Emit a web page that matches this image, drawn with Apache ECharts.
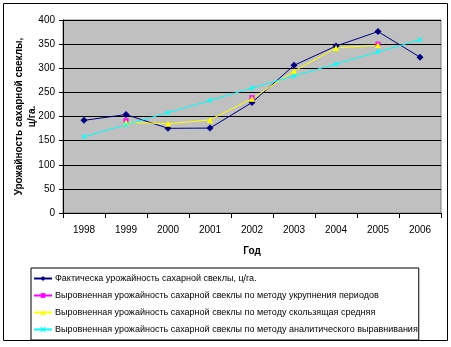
<!DOCTYPE html>
<html>
<head>
<meta charset="utf-8">
<script src="https://cdn.jsdelivr.net/npm/echarts@6/dist/echarts.min.js"></script>
<style>
  html, body { margin: 0; padding: 0; background: #fff; }
  #chart { width: 451px; height: 347px; }
</style>
</head>
<body>
<div id="chart"></div>
<script>
// Years on the category axis
var years = ['1998', '1999', '2000', '2001', '2002', '2003', '2004', '2005', '2006'];

// Actual sugar-beet yield, c/ha
var actualYield = [192, 204, 175.5, 176, 229, 306, 346, 376, 323];
// Smoothed by the period-enlargement method (3-year groups)
var enlargedPeriods = [null, 191, null, null, 239, null, null, 350, null];
// Smoothed by the moving-average method
var movingAverage = [null, 188, 185, 193, 237, 294, 342, 348, null];
// Smoothed by analytic (linear trend) levelling
var analyticTrend = [158, 183, 208, 233, 259, 284, 309, 334, 359];

var seriesNames = [
  'Фактическа урожайность сахарной свеклы, ц/га.',
  'Выровненная урожайность сахарной свеклы по методу укрупнения периодов',
  'Выровненная урожайность сахарной свеклы по методу скользящая средняя',
  'Выровненная урожайность сахарной свеклы по методу аналитического выравнивания'
];

var FONT = '"Liberation Sans", Arial, sans-serif';
var xMark = 'path://M0,0 L1.5,0 L5,3.5 L8.5,0 L10,0 L10,1.5 L6.5,5 L10,8.5 L10,10 L8.5,10 L5,6.5 L1.5,10 L0,10 L0,8.5 L3.5,5 L0,1.5 Z';

var chart = echarts.init(document.getElementById('chart'), null, { renderer: 'canvas' });

function lineSeries(name, data, color, symbol, size) {
  return {
    name: name,
    type: 'line',
    data: data,
    connectNulls: false,
    symbol: symbol,
    symbolSize: size,
    showAllSymbol: true,
    lineStyle: { color: color, width: 1 },
    itemStyle: { color: color, borderWidth: 0 },
    emphasis: { disabled: true },
    animation: false
  };
}

chart.setOption({
  animation: false,
  textStyle: { fontFamily: FONT, color: '#000' },
  graphic: [{
    type: 'rect',
    shape: { x: 3.5, y: 3.5, width: 444, height: 337 },
    style: { fill: 'none', stroke: '#000', lineWidth: 1 },
    silent: true
  }],
  grid: {
    left: 63, top: 20, right: 10, bottom: 134,
    outerBoundsMode: 'none',
    containLabel: false,
    show: true,
    backgroundColor: '#c0c0c0',
    borderColor: '#808080',
    borderWidth: 1
  },
  legend: {
    orient: 'vertical',
    left: 31, top: 268,
    padding: [5, 1, 5, 2],
    itemGap: 6,
    itemWidth: 18,
    itemHeight: 6,
    borderColor: '#000',
    borderWidth: 1,
    textStyle: { fontSize: 9, lineHeight: 11, fontFamily: FONT, color: '#000', padding: [0, 0, 0, -2] },
    data: seriesNames
  },
  xAxis: {
    type: 'category',
    data: years,
    boundaryGap: true,
    name: 'Год',
    nameLocation: 'middle',
    nameGap: 33,
    nameTextStyle: { fontSize: 10, fontWeight: 'bold', fontFamily: FONT, color: '#000' },
    axisLine: { show: true, lineStyle: { color: '#000', width: 1 } },
    axisTick: { show: true, length: 5, lineStyle: { color: '#000' } },
    axisLabel: { fontSize: 10, fontFamily: FONT, color: '#000', margin: 12 },
    splitLine: { show: false }
  },
  yAxis: {
    type: 'value',
    min: 0, max: 400, interval: 50,
    name: 'Урожайность сахарной свеклы,\nц/га.',
    nameLocation: 'middle',
    nameRotate: 90,
    nameGap: 24,
    nameMoveOverlap: false,
    nameTextStyle: { fontSize: 10, fontWeight: 'bold', fontFamily: FONT, color: '#000', lineHeight: 13 },
    axisLine: { show: true, lineStyle: { color: '#000', width: 1 } },
    axisTick: { show: true, length: 4, lineStyle: { color: '#000' } },
    axisLabel: { fontSize: 10, fontFamily: FONT, color: '#000', margin: 8 },
    splitLine: { show: true, lineStyle: { color: '#000', width: 1 } }
  },
  series: [
    lineSeries(seriesNames[0], actualYield, '#000080', 'diamond', 7),
    lineSeries(seriesNames[1], enlargedPeriods, '#ff00ff', 'rect', 5),
    lineSeries(seriesNames[2], movingAverage, '#ffff00', 'triangle', 6),
    lineSeries(seriesNames[3], analyticTrend, '#00ffff', xMark, 5)
  ]
});
</script>
</body>
</html>
